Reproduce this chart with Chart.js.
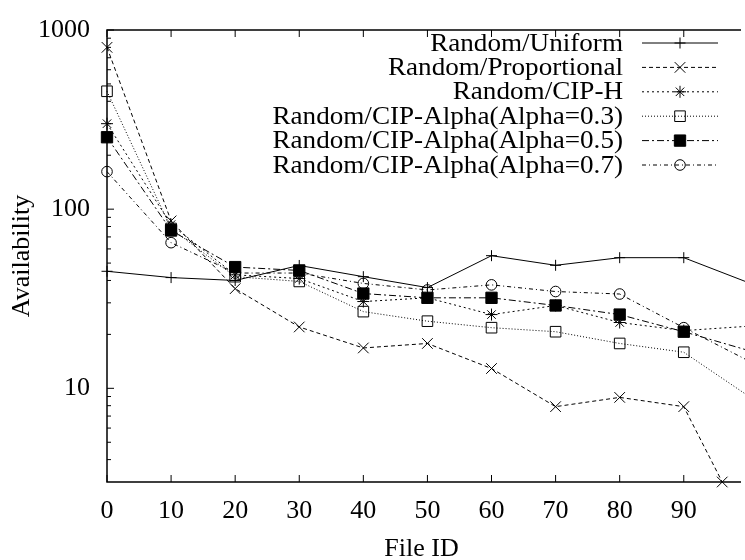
<!DOCTYPE html>
<html>
<head>
<meta charset="utf-8">
<script src="https://cdn.jsdelivr.net/npm/chart.js@4.4.1/dist/chart.umd.min.js"></script>
<style>
  html, body { margin: 0; padding: 0; background: #fff; }
  #wrap { width: 745px; height: 560px; }
</style>
</head>
<body>
<div id="wrap"><canvas id="chart" width="745" height="560"></canvas></div>
<script>
// File IDs, one sample every 10 (the last one sits past the right border)
let fileIds = [0, 10, 20, 30, 40, 50, 60, 70, 80, 90, 100];
// Random/Proportional hits the bottom border before the last sample
let propIds = [0, 10, 20, 30, 40, 50, 60, 70, 80, 90, 96];

let uniform      = [45, 41.5, 40, 48.5, 42, 36.5, 55, 48.6, 53.6, 53.6, 39];
let proportional = [800, 86, 36, 22, 16.8, 17.8, 12.9, 7.9, 8.9, 7.9, 3];
let cipH         = [300, 82, 43, 41, 30.5, 32, 25.8, 29, 23.3, 21, 22.2];
let alpha03      = [455, 78, 42, 39.5, 26.8, 23.7, 21.8, 20.7, 17.8, 15.9, 9.1];
let alpha05      = [252, 76, 47.5, 45.5, 33.8, 32, 32, 29, 25.8, 20.7, 16.3];
let alpha07      = [162, 65, 44, 44, 38.5, 35.4, 37.8, 34.7, 33.6, 21.8, 14.3];

let xTicks = [0, 10, 20, 30, 40, 50, 60, 70, 80, 90];
let yTicks = [10, 100, 1000];

const FONT = '"Liberation Serif", "DejaVu Serif", serif';

// one entry per curve: label, data and the gnuplot-ish look
const series = [
    { label: 'Random/Uniform',              ids: fileIds, values: uniform,      dash: [],           style: 'cross',    r: 5.5, fill: false },
    { label: 'Random/Proportional',         ids: propIds, values: proportional, dash: [4, 3],       style: 'crossRot', r: 7.5, fill: false },
    { label: 'Random/CIP-H',                ids: fileIds, values: cipH,         dash: [2, 3],       style: 'star',     r: 6,   fill: false },
    { label: 'Random/CIP-Alpha(Alpha=0.3)', ids: fileIds, values: alpha03,      dash: [1, 2],       style: 'rect',     r: 7.5, fill: false },
    { label: 'Random/CIP-Alpha(Alpha=0.5)', ids: fileIds, values: alpha05,      dash: [7, 3, 2, 3], style: 'rect',     r: 8,   fill: true },
    { label: 'Random/CIP-Alpha(Alpha=0.7)', ids: fileIds, values: alpha07,      dash: [4, 3, 1, 3], style: 'circle',   r: 5.3, fill: false }
];

var datasets = series.map(function(s, i) {
    return {
        label: s.label,
        data: s.ids.map((x, k) => ({ x: x, y: s.values[k] })),
        borderColor: '#000',
        borderWidth: 1,
        borderDash: s.dash,
        pointStyle: s.style,
        pointRadius: s.r,
        pointBorderWidth: 1,
        pointBorderColor: '#000',
        pointBackgroundColor: s.fill ? '#000' : 'rgba(0,0,0,0)',
        tension: 0,
        fill: false,
        clip: false,
        order: series.length - i
    };
});

// border + inward ticks like gnuplot
const framePlugin = {
    id: 'frame',
    beforeDatasetsDraw(chart) {
        const ctx = chart.ctx;
        const a = chart.chartArea;
        const x = chart.scales.x, y = chart.scales.y;
        ctx.save();
        ctx.strokeStyle = '#000';
        ctx.lineWidth = 1.5;
        ctx.beginPath();
        ctx.moveTo(a.right + 5, a.top);
        ctx.lineTo(a.left, a.top);
        ctx.lineTo(a.left, a.bottom);
        ctx.lineTo(a.right + 5, a.bottom);
        ctx.stroke();

        ctx.lineWidth = 1;
        ctx.beginPath();
        xTicks.forEach(function(v) {
            var px = x.getPixelForValue(v);
            ctx.moveTo(px, a.bottom); ctx.lineTo(px, a.bottom - 7);
            ctx.moveTo(px, a.top);    ctx.lineTo(px, a.top + 7);
        });
        yTicks.forEach(function(v) {
            var py = y.getPixelForValue(v);
            ctx.moveTo(a.left, py); ctx.lineTo(a.left + 7, py);
        });
        // minor ticks 2..9 of every decade
        [1, 10, 100].forEach(function(d) {
            for (var m = 2; m <= 9; m++) {
                var v = m * d;
                if (v <= y.min || v >= y.max) continue;
                var py = y.getPixelForValue(v);
                ctx.moveTo(a.left, py); ctx.lineTo(a.left + 4, py);
            }
        });
        ctx.stroke();
        ctx.restore();
    }
};

// key in the top right corner: text right aligned, sample on the right
const keyPlugin = {
    id: 'key',
    afterDraw(chart) {
        const ctx = chart.ctx;
        ctx.save();
        chart.data.datasets.forEach(function(ds, i) {
            var yy = 43 + i * 24.4;
            ctx.font = '25px ' + FONT;
            ctx.fillStyle = '#000';
            ctx.textAlign = 'right';
            ctx.textBaseline = 'middle';
            ctx.save();
            ctx.translate(623, yy + 1);
            ctx.scale(1.085, 1);
            ctx.fillText(ds.label, 0, 0);
            ctx.restore();

            ctx.strokeStyle = '#000';
            ctx.lineWidth = 1;
            ctx.setLineDash(ds.borderDash);
            ctx.beginPath();
            ctx.moveTo(642, yy);
            ctx.lineTo(718, yy);
            ctx.stroke();
            ctx.setLineDash([]);
            ctx.fillStyle = ds.pointBackgroundColor;
            Chart.helpers.drawPoint(ctx, {
                pointStyle: ds.pointStyle,
                radius: ds.pointRadius,
                rotation: 0,
                borderWidth: 1
            }, 680, yy);
        });
        ctx.restore();
    }
};

new Chart(document.getElementById('chart'), {
    type: 'line',
    data: { datasets: datasets },
    options: {
        responsive: false,
        animation: false,
        devicePixelRatio: 1,
        layout: { padding: { top: 21, right: 0, left: 0, bottom: 0 } },
        plugins: {
            legend: { display: false },
            tooltip: { enabled: false }
        },
        scales: {
            x: {
                type: 'linear',
                min: 0,
                max: 98.15,
                grid: { display: false, drawTicks: false },
                border: { display: false },
                afterBuildTicks: function(scale) {
                    scale.ticks = xTicks.map(v => ({ value: v }));
                },
                afterFit: function(scale) { scale.height = 78; },
                ticks: {
                    color: '#000',
                    padding: 16,
                    maxRotation: 0,
                    autoSkip: false,
                    font: { family: FONT, size: 26, lineHeight: 1 },
                    callback: v => String(v)
                },
                title: {
                    display: true,
                    text: 'File ID',
                    color: '#000',
                    padding: { top: 0, bottom: 0 },
                    font: { family: FONT, size: 26, lineHeight: 0.85 }
                }
            },
            y: {
                type: 'logarithmic',
                min: 3,
                max: 1000,
                grid: { display: false, drawTicks: false },
                border: { display: false },
                afterBuildTicks: function(scale) {
                    scale.ticks = yTicks.map(v => ({ value: v }));
                },
                afterFit: function(scale) { scale.width = 107; },
                ticks: {
                    color: '#000',
                    padding: 17,
                    autoSkip: false,
                    font: { family: FONT, size: 26, lineHeight: 1 },
                    callback: v => String(v)
                },
                title: {
                    display: true,
                    text: 'Availability',
                    color: '#000',
                    padding: { top: 9, bottom: 0 },
                    font: { family: FONT, size: 26, lineHeight: 1 }
                }
            }
        }
    },
    plugins: [framePlugin, keyPlugin]
});
</script>
</body>
</html>
